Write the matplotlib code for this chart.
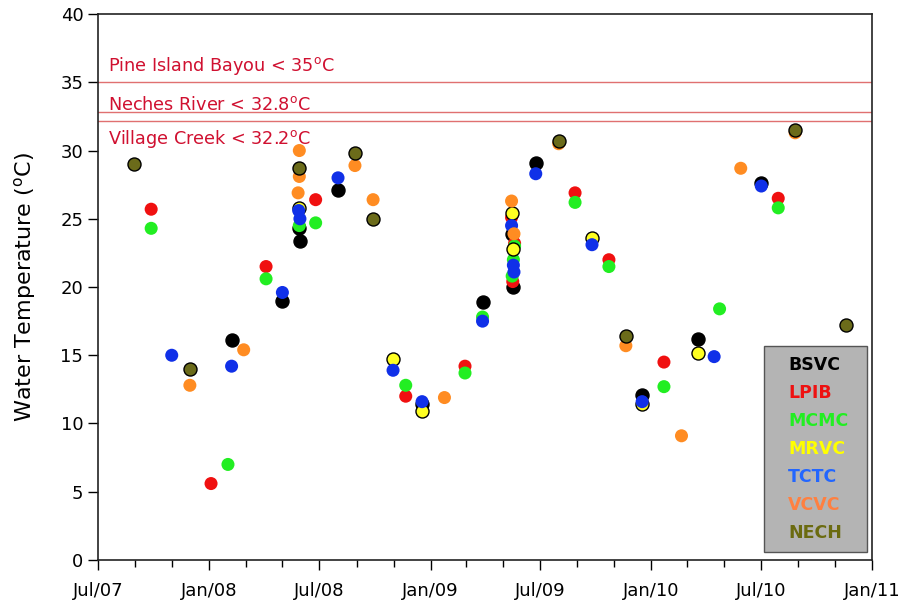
import numpy as np
import matplotlib
matplotlib.use("Agg")
import matplotlib.pyplot as plt
import matplotlib.dates as mdates
from matplotlib.lines import Line2D

# ---- station data (date, water temperature degC)
bsvc_dates = ["2008-02-07", "2008-05-01", "2008-05-28", "2008-05-30", "2008-08-01",
              "2008-12-18", "2009-03-28", "2009-05-15", "2009-05-18", "2009-06-24",
              "2009-12-17", "2010-03-19", "2010-07-02"]
bsvc_temps = [16.1, 19.0, 24.3, 23.4, 27.1, 11.4, 18.9, 23.9, 20.0, 29.1, 12.1, 16.2, 27.6]

lpib_dates = ["2007-09-27", "2008-01-04", "2008-04-04", "2008-06-25", "2008-11-21",
              "2009-02-27", "2009-05-15", "2009-05-20", "2009-05-17", "2009-08-28",
              "2009-10-23", "2010-01-22", "2010-07-30"]
lpib_temps = [25.7, 5.6, 21.5, 26.4, 12.0, 14.2, 25.1, 23.2, 20.4, 26.9, 22.0, 14.5, 26.5]

mcmc_dates = ["2007-09-27", "2008-02-01", "2008-04-04", "2008-05-29", "2008-06-25",
              "2008-11-21", "2009-02-27", "2009-03-28", "2009-05-20", "2009-05-18",
              "2009-05-16", "2009-08-28", "2009-10-23", "2010-01-22", "2010-04-24",
              "2010-07-30"]
mcmc_temps = [24.3, 7.0, 20.6, 24.5, 24.7, 12.8, 13.7, 17.8, 23.0, 22.0, 20.8,
              26.2, 21.5, 12.7, 18.4, 25.8]

mrvc_dates = ["2008-05-29", "2008-10-31", "2008-12-18", "2009-05-15", "2009-05-17",
              "2009-09-25", "2009-12-17", "2010-03-19"]
mrvc_temps = [25.8, 14.7, 10.9, 25.4, 22.8, 23.6, 11.4, 15.2]

tctc_dates = ["2007-10-31", "2008-02-07", "2008-05-01", "2008-05-28", "2008-05-30",
              "2008-08-01", "2008-10-31", "2008-12-18", "2009-03-28", "2009-05-15",
              "2009-05-18", "2009-05-19", "2009-06-24", "2009-09-25", "2009-12-17",
              "2010-04-15", "2010-07-02"]
tctc_temps = [15.0, 14.2, 19.6, 25.6, 25.0, 28.0, 13.9, 11.6, 17.5, 24.5, 21.6,
              21.1, 28.3, 23.1, 11.6, 14.9, 27.4]

vcvc_dates = ["2007-11-30", "2008-02-27", "2008-05-29", "2008-05-29", "2008-05-27",
              "2008-08-29", "2008-09-28", "2009-01-24", "2009-05-15", "2009-05-19",
              "2009-08-01", "2009-11-20", "2010-02-20", "2010-05-29", "2010-08-27"]
vcvc_temps = [12.8, 15.4, 30.0, 28.1, 26.9, 28.9, 26.4, 11.9, 26.3, 23.9, 30.5,
              15.7, 9.1, 28.7, 31.3]

nech_dates = ["2007-08-29", "2007-11-30", "2008-05-29", "2008-08-29", "2008-09-28",
              "2009-08-01", "2009-11-20", "2010-08-27", "2010-11-19"]
nech_temps = [29.0, 14.0, 28.7, 29.8, 25.0, 30.7, 16.4, 31.5, 17.2]

# criteria lines
limit_names = ["Pine Island Bayou", "Neches River", "Village Creek"]
limit_values = [35.0, 32.8, 32.2]
limit_label_y = [35.8, 33.0, 30.45]

stations = [
    ("BSVC", bsvc_dates, bsvc_temps, "#000000", "#000000", "#000000"),
    ("LPIB", lpib_dates, lpib_temps, "#f01010", "none", "#ee1111"),
    ("MCMC", mcmc_dates, mcmc_temps, "#22ee22", "none", "#22ee22"),
    ("MRVC", mrvc_dates, mrvc_temps, "#ffff22", "#000000", "#ffff00"),
    ("TCTC", tctc_dates, tctc_temps, "#1030e8", "none", "#2266ff"),
    ("VCVC", vcvc_dates, vcvc_temps, "#ff8c22", "none", "#ff8040"),
    ("NECH", nech_dates, nech_temps, "#6b6b1a", "#000000", "#6b6b10"),
]

fig = plt.figure(figsize=(9.02, 6.11), dpi=100)
ax = fig.add_axes([0.1086, 0.0835, 0.8581, 0.8935])

for name, dates, temps, fc, ec, _ in stations:
    ax.scatter(np.array(dates, dtype="datetime64[D]"), temps, s=88,
               facecolor=fc, edgecolor=ec, linewidth=1.0, zorder=3)

for name, val, ly in zip(limit_names, limit_values, limit_label_y):
    ax.axhline(val, color="#e07070", lw=1.0, zorder=1)
    ax.text(0.013, ly, f"{name} < {val:g}$^\\mathregular{{o}}$C", color="#d01030",
            fontsize=12.7, va="baseline", ha="left",
            transform=ax.get_yaxis_transform())

ax.set_xlim(np.datetime64("2007-07-01"), np.datetime64("2011-01-01"))
ax.set_ylim(0, 40)
ax.set_yticks(np.arange(0, 41, 5))
ax.xaxis.set_major_locator(mdates.MonthLocator(bymonth=[1, 7]))
ax.xaxis.set_minor_locator(mdates.MonthLocator(bymonth=[3, 5, 9, 11]))
ax.xaxis.set_major_formatter(mdates.DateFormatter("%b/%y"))
ax.tick_params(axis="both", which="major", labelsize=13, length=7, width=1,
               direction="out", top=False, right=False)
ax.tick_params(axis="x", which="minor", length=5, width=1, direction="out")
ax.tick_params(axis="x", pad=9)
ax.set_ylabel("Water Temperature ($^\\mathregular{o}$C)", fontsize=16, labelpad=16)
for sp in ax.spines.values():
    sp.set_color("#222222")
    sp.set_linewidth(1.2)

handles = [Line2D([], [], ls="none") for _ in stations]
leg = ax.legend(handles, [s[0] for s in stations], loc="lower left",
                bbox_to_anchor=(0.8605, 0.0147, 0.133, 0.38), mode="expand",
                borderaxespad=0, handlelength=0.83, handletextpad=0,
                borderpad=0.55, labelspacing=0.58, fancybox=False, framealpha=1,
                facecolor="#b4b4b4", edgecolor="#555555",
                prop={"size": 12.5, "weight": "bold"})
for txt, st in zip(leg.get_texts(), stations):
    txt.set_color(st[5])

fig.savefig("out.png", dpi=100)
